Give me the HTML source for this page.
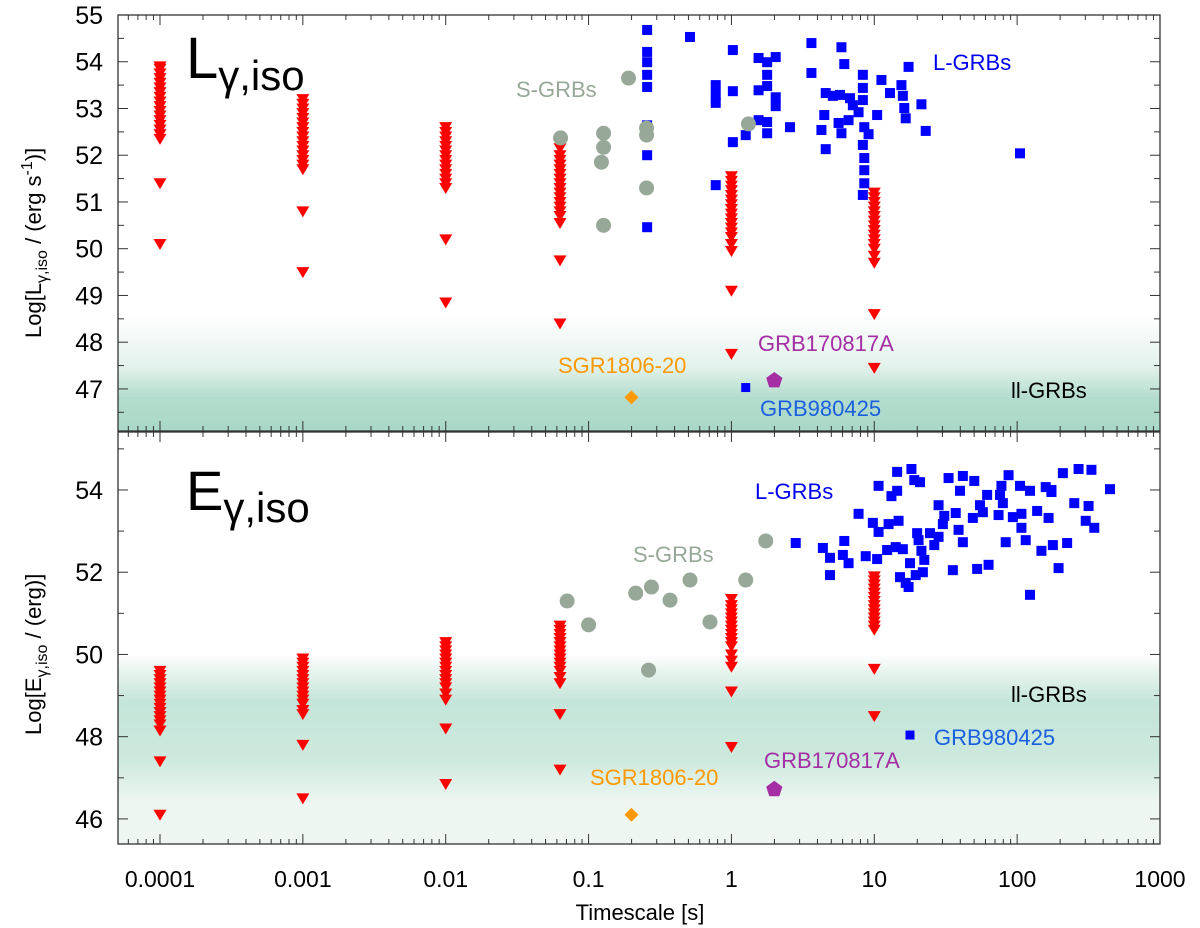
<!DOCTYPE html>
<html><head><meta charset="utf-8"><style>
html,body{margin:0;padding:0;background:#fff}
svg{display:block;font-family:"Liberation Sans",sans-serif}
</style></head><body>
<svg id="chart" width="1200" height="928" viewBox="0 0 1200 928" xmlns="http://www.w3.org/2000/svg">
<defs>
<linearGradient id="gTop" x1="0" y1="0" x2="0" y2="1">
<stop offset="0" stop-color="#ffffff"/><stop offset="0.45" stop-color="#e3f2ec"/><stop offset="0.72" stop-color="#b3dccd"/><stop offset="1" stop-color="#a9d8c7"/>
</linearGradient>
<linearGradient id="gBot" x1="0" y1="0" x2="0" y2="1">
<stop offset="0" stop-color="#ffffff"/><stop offset="0.08" stop-color="#eaf5f0"/><stop offset="0.25" stop-color="#c4e5d9"/><stop offset="0.55" stop-color="#cde9de"/><stop offset="0.78" stop-color="#eef6f2"/><stop offset="1" stop-color="#eef6f2"/>
</linearGradient>
</defs>
<g id="layer"></g>
</svg>
<script>
// ---- data ----
const tickLabelsX = ["0.0001","0.001","0.01","0.1","1","10","100","1000"];
const tickLabelsTop = [47,48,49,50,51,52,53,54,55];
const tickLabelsBot = [46,48,50,52,54];
// upper-limit columns (log10 timescale)
const limitTimes = [-4,-3,-2,-1.2,0,1];
const limitsL = [
 [53.9,53.85,53.75,53.65,53.55,53.45,53.35,53.25,53.15,53.05,52.95,52.85,52.75,52.65,52.55,52.45,52.35,51.4,50.1],
 [53.2,53.1,53.0,52.9,52.8,52.7,52.6,52.5,52.4,52.3,52.2,52.1,52.0,51.9,51.8,51.7,50.8,49.5],
 [52.6,52.5,52.4,52.3,52.2,52.1,52.0,51.9,51.8,51.7,51.6,51.5,51.4,51.3,50.2,48.85],
 [52.15,52.0,51.9,51.8,51.7,51.6,51.5,51.4,51.3,51.2,51.1,51.0,50.9,50.8,50.7,50.55,49.75,48.4],
 [51.55,51.45,51.35,51.25,51.15,51.05,50.95,50.85,50.75,50.65,50.55,50.45,50.35,50.25,50.1,49.95,49.1,47.75],
 [51.2,51.1,51.0,50.9,50.8,50.7,50.6,50.5,50.4,50.3,50.2,50.1,50.0,49.85,49.7,48.6,47.45]
];
const limitsE = [
 [49.6,49.5,49.4,49.3,49.2,49.1,49.0,48.9,48.8,48.7,48.6,48.5,48.4,48.3,48.15,47.4,46.1],
 [49.9,49.8,49.7,49.6,49.5,49.4,49.3,49.2,49.1,49.0,48.9,48.8,48.65,48.55,47.8,46.5],
 [50.3,50.2,50.1,50.0,49.9,49.8,49.7,49.6,49.5,49.4,49.3,49.2,49.05,48.9,48.2,46.85],
 [50.7,50.6,50.5,50.4,50.3,50.2,50.1,50.0,49.9,49.8,49.7,49.6,49.45,49.3,48.55,47.2],
 [51.35,51.2,51.1,51.0,50.9,50.8,50.7,50.6,50.5,50.4,50.3,50.2,50.0,49.85,49.7,49.1,47.75],
 [51.9,51.8,51.7,51.6,51.5,51.4,51.3,51.2,51.1,51.0,50.9,50.8,50.7,50.6,49.65,48.5]
];
const sgrbTopT = [-0.72,-1.196,-0.895,-0.895,-0.91,-0.895,-0.594,-0.594,-0.594,0.119];
const sgrbTopL = [53.65,52.37,52.47,52.17,51.85,50.5,52.58,52.43,51.3,52.67];
const sgrbBotT = [-1.15,-1.0,-0.67,-0.56,-0.43,-0.29,-0.15,0.1,0.24,-0.58];
const sgrbBotE = [51.3,50.72,51.49,51.64,51.32,51.81,50.79,51.81,52.76,49.62];
const lgrbTopT = [-0.59,-0.59,-0.59,-0.59,-0.59,-0.59,-0.59,-0.59,-0.29,-0.11,0.01,0.01,-0.11,-0.11,-0.11,0.01,0.1,0.19,0.25,0.31,0.25,0.25,0.19,0.31,0.31,0.19,0.25,0.25,0.41,0.56,0.56,0.77,0.79,0.65,0.66,0.63,0.75,0.66,0.71,0.76,0.83,0.85,0.82,0.77,0.89,0.92,0.92,0.92,0.93,0.96,0.92,0.93,0.93,0.93,0.92,1.02,1.05,1.11,1.19,1.2,1.21,1.22,1.33,1.36,1.24,2.02];
const lgrbTopL = [54.68,54.21,53.99,53.72,53.46,52.64,52.0,50.46,54.53,51.36,54.25,53.37,53.5,53.29,53.12,52.28,52.43,54.08,53.99,54.1,53.72,53.48,53.39,53.24,53.05,52.75,52.71,52.47,52.6,54.4,53.76,54.31,53.95,52.86,52.13,52.54,52.69,53.33,53.27,53.29,53.22,53.07,52.75,52.47,52.92,53.44,53.72,53.18,52.6,52.45,52.22,51.94,51.68,51.4,51.15,52.86,53.61,53.33,53.5,53.27,53.01,52.79,53.09,52.52,53.89,52.04];
const lgrbBotT = [0.45,0.64,0.79,0.69,0.78,0.82,0.69,0.94,1.02,1.15,1.17,0.99,0.89,1.1,1.03,1.09,1.2,1.25,1.35,1.12,1.16,1.32,1.03,1.16,1.26,1.28,1.52,1.62,1.6,1.7,1.79,1.74,1.89,1.94,2.02,2.09,2.2,2.32,2.43,2.24,2.4,2.5,2.52,2.65,2.48,2.54,2.22,2.14,2.03,1.97,2.03,2.06,1.87,1.76,1.69,1.57,1.49,1.48,1.45,1.42,1.39,1.45,1.59,1.62,1.55,1.72,1.8,1.92,2.17,2.25,2.29,2.09,2.35,1.18,1.22,1.24,1.29,1.34,1.9,1.31,1.33,1.3,2.24,1.88];
const lgrbBotE = [52.71,52.59,52.76,52.35,52.42,52.22,51.93,52.39,52.32,52.61,53.25,53.2,53.42,53.17,52.98,52.54,52.56,52.22,52.3,53.85,53.98,54.19,54.1,54.44,54.51,54.24,54.29,54.34,53.98,54.22,53.88,53.63,54.1,54.36,54.1,53.98,54.07,54.41,54.51,54.0,53.68,53.61,54.49,54.02,53.25,53.08,53.32,53.49,53.42,53.34,53.08,52.78,53.39,53.46,53.32,53.44,53.37,53.17,52.86,52.66,52.95,53.63,53.03,52.73,52.05,52.08,52.18,52.73,52.52,52.66,52.1,51.45,52.71,51.88,51.74,51.64,51.93,52.0,53.68,52.78,52.52,52.95,53.95,53.88];
const sgrT = -0.7, sgrL = 46.82, sgrE = 46.1;
const g170T = 0.3, g170L = 47.18, g170E = 46.72;
const g980T_top = 0.1, g980L = 47.03, g980T_bot = 1.25, g980E = 48.04;

// ---- axes ----
const X0=118, X1=1160, LX0=-4.294, LX1=3;
const TOP={y0:15,y1:431,v0:46.1,v1:55};
const BOT={y0:432,y1:844,v0:45.39,v1:55.41};
const xs = lt => X0+(lt-LX0)/(LX1-LX0)*(X1-X0);
const ysT = v => TOP.y1-(v-TOP.v0)/(TOP.v1-TOP.v0)*(TOP.y1-TOP.y0);
const ysB = v => BOT.y1-(v-BOT.v0)/(BOT.v1-BOT.v0)*(BOT.y1-BOT.y0);

const NS="http://www.w3.org/2000/svg";
const layer=document.getElementById('layer');
function mk(tag,attrs,parent){const e=document.createElementNS(NS,tag);for(const k in attrs)e.setAttribute(k,attrs[k]);(parent||layer).appendChild(e);return e;}

// bands
let b=mk('rect',{x:X0,y:ysT(48.6),width:X1-X0,height:TOP.y1-ysT(48.6),fill:'url(#gTop)'});


b=mk('rect',{x:X0,y:ysB(50),width:X1-X0,height:BOT.y1-ysB(50),fill:'url(#gBot)'});



function tri(x,y,parent){const p=mk('polygon',{points:`${x-6.5},${y-5} ${x+6.5},${y-5} ${x},${y+6}`,fill:'#ff0000'},parent);

}
function sq(x,y,parent,s){s=s||10;const p=mk('rect',{x:x-s/2,y:y-s/2,width:s,height:s,fill:'#0000ff'},parent);

}
function circ(x,y,parent){const p=mk('circle',{cx:x,cy:y,r:7.5,fill:'#98a898'},parent);

}

[[TOP,ysT,limitsL,sgrbTopT,sgrbTopL,lgrbTopT,lgrbTopL,'top'],[BOT,ysB,limitsE,sgrbBotT,sgrbBotE,lgrbBotT,lgrbBotE,'bottom']].forEach(([P,ys,lim,st,sv,lt,lv,nm])=>{
  const g=mk('g',{});
  
  
  limitTimes.forEach((t,i)=>lim[i].forEach(v=>tri(xs(t),ys(v),g)));
  lt.forEach((t,i)=>sq(xs(t),ys(lv[i]),g));
  st.forEach((t,i)=>circ(xs(t),ys(sv[i]),g));
});
// special objects
function diamond(x,y){const p=mk('polygon',{points:`${x},${y-7} ${x+7},${y} ${x},${y+7} ${x-7},${y}`,fill:'#ff9900'});

}
function penta(x,y){let pts=[];for(let k=0;k<5;k++){const a=-Math.PI/2+k*2*Math.PI/5;pts.push((x+8.5*Math.cos(a)).toFixed(1)+','+(y+8.5*Math.sin(a)).toFixed(1));}
const p=mk('polygon',{points:pts.join(' '),fill:'#a52ea5'});

}
diamond(xs(sgrT),ysT(sgrL)); diamond(xs(sgrT),ysB(sgrE));
penta(xs(g170T),ysT(g170L)); penta(xs(g170T),ysB(g170E));
sq(xs(g980T_top),ysT(g980L),layer,9); sq(xs(g980T_bot),ysB(g980E),layer,9);

// frames & ticks
[[TOP,ysT,tickLabelsTop,0.5,'top'],[BOT,ysB,tickLabelsBot,1,'bottom']].forEach(([P,ys,labs,minor,nm])=>{
  const f=mk('rect',{x:X0,y:P.y0,width:X1-X0,height:P.y1-P.y0,fill:'none',stroke:'#333','stroke-width':1.3});
  
  
  for(let d=-5;d<=3;d++){for(let m=1;m<=9;m++){const lt=d+Math.log10(m);if(lt<LX0||lt>LX1+1e-6)continue;const x=xs(lt);const L=m==1?10:5;
    mk('line',{x1:x,x2:x,y1:P.y1,y2:P.y1-L,stroke:'#333','stroke-width':1});
    mk('line',{x1:x,x2:x,y1:P.y0,y2:P.y0+L,stroke:'#333','stroke-width':1});}}
  for(let v=Math.ceil(P.v0/minor)*minor;v<=P.v1+1e-6;v+=minor){const y=ys(v);const isMaj=labs.some(l=>Math.abs(l-v)<1e-6);const L=isMaj?10:6;
    mk('line',{x1:X0,x2:X0+L,y1:y,y2:y,stroke:'#333','stroke-width':1});
    mk('line',{x1:X1,x2:X1-L,y1:y,y2:y,stroke:'#333','stroke-width':1});}
  labs.forEach(l=>{const t=mk('text',{x:X0-15,y:ys(l)+9,'text-anchor':'end','font-size':25,fill:'#000'});t.textContent=l;
    
    });
});
tickLabelsX.forEach((l,i)=>{const t=mk('text',{x:xs(-4+i),y:887,'text-anchor':'middle','font-size':23,fill:'#000'});t.textContent=l;
  
  });

function txt(x,y,s,size,color,name,anchor){const t=mk('text',{x:x,y:y,'font-size':size,fill:color,'text-anchor':anchor||'start'});t.textContent=s;
  
  return t;}
txt(933,70,'L-GRBs',22,'#0000ee','l-grbs-label-top');
txt(516,97,'S-GRBs',22,'#98a898','s-grbs-label-top');
txt(1011,398,'ll-GRBs',22,'#000','ll-grbs-label-top');
txt(558,373,'SGR1806-20',22,'#ff9900','sgr-label-top');
txt(758,351,'GRB170817A',22,'#a52ea5','grb170817a-label-top');
txt(760,416,'GRB980425',22,'#1a5fe0','grb980425-label-top');
txt(755,499,'L-GRBs',22,'#0000ee','l-grbs-label-bottom');
txt(633,562,'S-GRBs',22,'#98a898','s-grbs-label-bottom');
txt(1011,702,'ll-GRBs',22,'#000','ll-grbs-label-bottom');
txt(590,785,'SGR1806-20',22,'#ff9900','sgr-label-bottom');
txt(764,768,'GRB170817A',22,'#a52ea5','grb170817a-label-bottom');
txt(934,745,'GRB980425',22,'#1a5fe0','grb980425-label-bottom');
txt(640,920,'Timescale [s]',22,'#000','x-axis-title','middle');

// panel titles
let t=mk('text',{x:186,y:78,'font-size':58,fill:'#000'});
t.innerHTML='L<tspan font-size="42" dy="12">γ,iso</tspan>';


t=mk('text',{x:186,y:510,'font-size':56,fill:'#000'});
t.innerHTML='E<tspan font-size="42" dy="12">γ,iso</tspan>';



// y titles
t=mk('text',{transform:'translate(41,338) rotate(-90)','font-size':22,fill:'#000'});
t.innerHTML='Log[L<tspan font-size="16" dy="6">γ,iso</tspan><tspan dy="-6"> / (erg s</tspan><tspan font-size="16" dy="-9">-1</tspan><tspan dy="9">)]</tspan>';


t=mk('text',{transform:'translate(41,735) rotate(-90)','font-size':22,fill:'#000'});
t.innerHTML='Log[E<tspan font-size="16" dy="6">γ,iso</tspan><tspan dy="-6"> / (erg)]</tspan>';


</script>
</body></html>
